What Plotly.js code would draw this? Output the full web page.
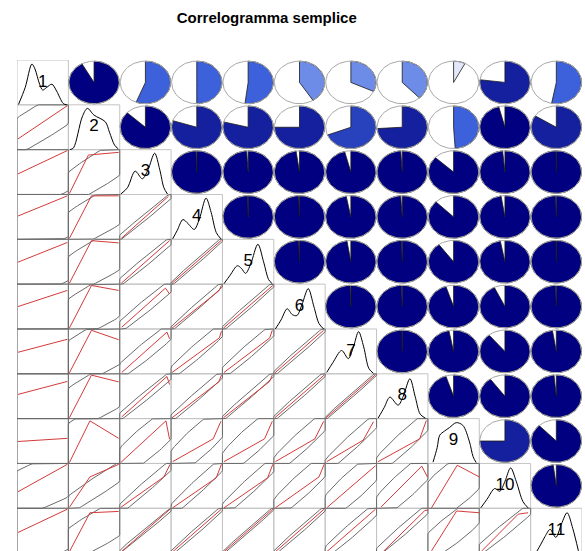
<!DOCTYPE html>
<html><head><meta charset="utf-8">
<script src="https://cdn.plot.ly/plotly-3.0.1.min.js"></script>
<style>html,body{margin:0;padding:0;background:#fff}</style>
</head><body><div id="chart" style="width:585px;height:551px"></div>
<script>
// ---------------- DATA ----------------
const varLabels = ['1','2','3','4','5','6','7','8','9','10','11'];

// upper-triangle correlations: corrRows[i] holds r(i+1, j) for j = i+2 .. 11
const corrRows = [
  [0.92, 0.56, 0.50, 0.52, 0.41, 0.32, 0.38, 0.075, 0.77, 0.53],
  [0.87, 0.80, 0.79, 0.75, 0.69, 0.74, 0.49, 0.96, 0.84],
  [0.995, 0.99, 0.978, 0.96, 0.99, 0.87, 0.985, 0.998],
  [0.997, 0.995, 0.97, 0.99, 0.875, 0.975, 0.995],
  [0.995, 0.975, 0.995, 0.90, 0.97, 0.998],
  [0.995, 0.995, 0.95, 0.93, 0.995],
  [0.998, 0.97, 0.89, 0.975],
  [0.95, 0.90, 0.985],
  [0.75, 0.88],
  [0.98]
];

// per-variable mean and spread (fraction of panel) used for the data ellipses
const varMean = [0.45, 0.60, 0.55, 0.55, 0.55, 0.55, 0.55, 0.55, 0.50, 0.52, 0.55];
const varSpread = [1.50, 1.10, 0.85, 0.80, 0.80, 0.80, 0.80, 0.80, 0.85, 0.85, 0.80];

// diagonal density curves (x and height as fraction of the panel)
const densityX = [
  [0.03,0.16,0.29,0.35,0.44,0.50,0.58,0.68,0.77,0.90,0.97],
  [0.03,0.10,0.27,0.37,0.50,0.72,0.80,0.90,0.97],
  [0.02,0.15,0.30,0.44,0.55,0.68,0.78,0.86,0.93],
  [0.03,0.12,0.23,0.33,0.45,0.55,0.68,0.78,0.88,0.97],
  [0.03,0.15,0.29,0.37,0.45,0.55,0.69,0.80,0.90,0.97],
  [0.03,0.14,0.26,0.36,0.45,0.55,0.67,0.78,0.88,0.97],
  [0.03,0.15,0.32,0.45,0.55,0.65,0.75,0.85,0.94],
  [0.03,0.15,0.26,0.42,0.52,0.65,0.75,0.85,0.95],
  [0.10,0.18,0.23,0.32,0.42,0.55,0.68,0.81,0.88,0.94],
  [0.03,0.15,0.30,0.40,0.50,0.61,0.72,0.85,0.95],
  [0.10,0.20,0.28,0.38,0.49,0.60,0.71,0.82,0.93]
];
const densityY = [
  [0.01,0.39,0.91,0.80,0.46,0.33,0.39,0.46,0.31,0.03,0.00],
  [0.00,0.04,0.73,0.92,0.77,0.62,0.39,0.10,0.02],
  [0.01,0.15,0.52,0.35,0.55,0.92,0.55,0.15,0.01],
  [0.01,0.20,0.44,0.35,0.22,0.45,0.92,0.60,0.15,0.01],
  [0.01,0.20,0.41,0.35,0.24,0.45,0.89,0.50,0.10,0.01],
  [0.00,0.20,0.45,0.32,0.30,0.55,0.90,0.50,0.12,0.00],
  [0.03,0.25,0.52,0.34,0.60,0.94,0.60,0.12,0.01],
  [0.01,0.25,0.48,0.30,0.50,0.89,0.50,0.10,0.01],
  [0.03,0.35,0.63,0.72,0.80,0.91,0.85,0.48,0.15,0.02],
  [0.01,0.20,0.44,0.38,0.60,0.90,0.60,0.15,0.01],
  [0.00,0.20,0.37,0.53,0.35,0.65,0.90,0.55,0.05]
];

// lower panels: loess smooth, [row, col] pairs with x / y as fraction of panel
const smoothPairs = [
  [2,1],[3,1],[4,1],[5,1],[6,1],[7,1],[8,1],[9,1],[10,1],[11,1],
  [3,2],[4,2],[5,2],[6,2],[7,2],[8,2],[9,2],[10,2],[11,2],
  [4,3],[5,3],[6,3],[7,3],[8,3],[9,3],[10,3],[11,3],
  [5,4],[6,4],[7,4],[8,4],[9,4],[10,4],[11,4],
  [6,5],[7,5],[8,5],[9,5],[10,5],[11,5],
  [7,6],[8,6],[9,6],[10,6],[11,6],
  [8,7],[9,7],[10,7],[11,7],
  [9,8],[10,8],[11,8],
  [10,9],[11,9],
  [11,10]
];
const smoothX = [
  [0.02,0.98],[0.02,0.98],[0.02,0.98],[0.02,0.98],[0.02,0.98],[0.02,0.98],[0.02,0.98],[0.02,0.98],[0.02,0.98],[0.02,0.98],
  [0.02,0.39,0.98],[0.02,0.45,0.98],[0.02,0.45,0.98],[0.02,0.45,0.98],[0.02,0.45,0.98],[0.02,0.45,0.98],[0.02,0.42,0.98],[0.02,0.42,0.98],[0.02,0.42,0.98],
  [0.03,0.95],[0.03,0.92,0.97],[0.04,0.89,0.97],[0.04,0.92,0.97],[0.04,0.92,0.97],[0.02,0.90,0.97],[0.02,0.86,0.98],[0.02,0.98],
  [0.02,0.98],[0.02,0.93,0.98],[0.02,0.94,0.98],[0.02,0.93,0.98],[0.03,0.82,0.97],[0.03,0.88,0.98],[0.02,0.98],
  [0.02,0.98],[0.03,0.92,0.97],[0.02,0.92,0.97],[0.03,0.82,0.97],[0.03,0.88,0.98],[0.02,0.98],
  [0.02,0.97],[0.02,0.98],[0.03,0.80,0.97],[0.03,0.88,0.98],[0.02,0.98],
  [0.02,0.98],[0.03,0.74,0.94],[0.04,0.88,0.98],[0.02,0.98],
  [0.03,0.84,0.97],[0.09,0.88,0.99],[0.10,0.94,1.00],
  [0.07,0.57,1.00],[0.07,0.56,1.00],
  [0.05,0.76,0.95]
];
const smoothY = [
  [0.24,0.98],[0.46,0.98],[0.52,0.97],[0.49,0.93],[0.50,0.86],[0.48,0.77],[0.54,0.83],[0.49,0.56],[0.37,0.98],[0.46,0.98],
  [0.02,0.88,0.94],[0.02,0.97,0.97],[0.02,0.97,0.92],[0.02,0.97,0.86],[0.02,0.97,0.76],[0.02,0.97,0.82],[0.02,0.95,0.56],[0.02,0.70,0.98],[0.03,0.90,0.93],
  [0.02,0.96],[0.02,0.93,0.97],[0.04,0.91,0.78],[0.03,0.93,0.78],[0.04,0.94,0.76],[0.02,0.95,0.54],[0.02,0.70,0.98],[0.02,0.98],
  [0.02,0.98],[0.02,0.85,0.97],[0.03,0.80,0.95],[0.02,0.82,0.97],[0.04,0.55,0.94],[0.01,0.68,0.98],[0.02,0.98],
  [0.02,0.97],[0.03,0.80,0.97],[0.02,0.83,0.97],[0.04,0.55,0.94],[0.01,0.68,0.98],[0.02,0.98],
  [0.02,0.97],[0.02,0.97],[0.04,0.55,0.94],[0.01,0.70,0.98],[0.02,0.98],
  [0.02,0.98],[0.04,0.52,0.93],[0.02,0.85,0.95],[0.02,0.98],
  [0.04,0.55,0.96],[0.03,0.94,0.70],[0.00,0.95,0.96],
  [0.01,0.96,0.70],[0.05,0.94,0.90],
  [0.05,0.87,0.90]
];

// ---------------- DRAWING ----------------
const N = varLabels.length;
function corrOf(i, j) { // 1-based, i<j
  return corrRows[i-1][j-i-1];
}
function px(col, u) { return col - 1 + u; }
function py(row, v) { return N - row + v; }

const rampStops = [[255,0,0],[250,128,114],[255,255,255],[65,105,225],[0,0,128]];
function pieColor(r) {
  let idx = Math.ceil((r + 1) / (2 / 14));
  idx = Math.max(1, Math.min(14, idx));
  const t = (idx - 1) / 13;
  const pos = t * 4;
  const k = Math.min(Math.floor(pos), 3);
  const f = pos - k;
  const a = rampStops[k], b = rampStops[k+1];
  const c = a.map((v, n) => Math.round(v + (b[n] - v) * f));
  return 'rgb(' + c.join(',') + ')';
}

const traces = [];
const shapes = [];

// panel boxes (diagonal + lower)
for (let i = 1; i <= N; i++) {
  for (let j = 1; j <= i; j++) {
    shapes.push({type:'rect', xref:'x', yref:'y', x0:j-1, x1:j, y0:N-i, y1:N-i+1,
      line:{color:'#c4c4c4', width:1}, layer:'below'});
  }
}

// pies (upper)
const rx = 0.49, ry = 0.475;
for (let i = 1; i <= N; i++) {
  for (let j = i + 1; j <= N; j++) {
    const r = corrOf(i, j);
    const cx = j - 0.5, cy = N - i + 0.5;
    const seg = Math.max(2, Math.round(90 * Math.abs(r)));
    const xs = [], ys = [];
    for (let s = 0; s < seg; s++) {
      const th = Math.PI / 2 - 2 * Math.PI * r * s / (seg - 1);
      xs.push(cx + rx * Math.cos(th)); ys.push(cy + ry * Math.sin(th));
    }
    xs.push(cx, xs[0]); ys.push(cy, ys[0]);
    traces.push({type:'scatter', mode:'lines', x:xs, y:ys, fill:'toself',
      fillcolor:pieColor(r), line:{color:'#1a1a1a', width:0.8}, hoverinfo:'skip'});
    const ox = [], oy = [];
    for (let s = 0; s <= 90; s++) {
      const th = 2 * Math.PI * s / 90;
      ox.push(cx + rx * Math.cos(th)); oy.push(cy + ry * Math.sin(th));
    }
    traces.push({type:'scatter', mode:'lines', x:ox, y:oy,
      line:{color:'#a8a8a8', width:1}, hoverinfo:'skip'});
  }
}

// data ellipses (lower), clamped to panel
const ex = [], ey = [];
for (let i = 2; i <= N; i++) {
  for (let j = 1; j < i; j++) {
    const r = corrOf(j, i);
    const q = Math.sqrt(1 - r * r);
    const a = varSpread[j-1], b = varSpread[i-1];
    const mx = varMean[j-1], my = varMean[i-1];
    for (let s = 0; s <= 150; s++) {
      const t = 2 * Math.PI * s / 150;
      let u = mx + a * Math.cos(t);
      let v = my + b * (r * Math.cos(t) + q * Math.sin(t));
      u = Math.max(0, Math.min(1, u)); v = Math.max(0, Math.min(1, v));
      ex.push(px(j, u)); ey.push(py(i, v));
    }
    ex.push(null); ey.push(null);
  }
}
traces.push({type:'scatter', mode:'lines', x:ex, y:ey, connectgaps:false,
  line:{color:'#6a6a6a', width:1}, hoverinfo:'skip'});

// loess smooths (lower)
const sx = [], sy = [];
smoothPairs.forEach((p, k) => {
  const [row, col] = p;
  smoothX[k].forEach((u, n) => { sx.push(px(col, u)); sy.push(py(row, smoothY[k][n])); });
  sx.push(null); sy.push(null);
});
traces.push({type:'scatter', mode:'lines', x:sx, y:sy, connectgaps:false,
  line:{color:'#d43a3a', width:1}, hoverinfo:'skip'});

// densities (diagonal)
for (let k = 1; k <= N; k++) {
  traces.push({type:'scatter', mode:'lines',
    x: densityX[k-1].map(u => px(k, u)), y: densityY[k-1].map(v => py(k, v)),
    line:{color:'#000', width:1, shape:'spline', smoothing:0.9}, hoverinfo:'skip'});
}
// labels
traces.push({type:'scatter', mode:'text',
  x: varLabels.map((_, k) => k + 0.5), y: varLabels.map((_, k) => N - k - 0.5),
  text: varLabels, textposition:'middle center',
  textfont:{family:'Liberation Sans, Arial, sans-serif', size:17, color:'#000'},
  hoverinfo:'skip'});

const layout = {
  width:585, height:551,
  margin:{l:17, r:3, t:60, b:0, pad:0},
  paper_bgcolor:'#fff', plot_bgcolor:'#fff',
  showlegend:false, hovermode:false,
  title:{text:'<b>Correlogramma semplice</b>', x:0.456, xanchor:'center', y:1-18/551, yanchor:'middle',
    font:{family:'Liberation Sans, Arial, sans-serif', size:15, color:'#000'}},
  xaxis:{range:[0, N], showgrid:false, zeroline:false, showticklabels:false, ticks:'', showline:false, fixedrange:true},
  yaxis:{range:[0.047, N], showgrid:false, zeroline:false, showticklabels:false, ticks:'', showline:false, fixedrange:true},
  shapes: shapes
};
Plotly.newPlot('chart', traces, layout, {staticPlot:true, displayModeBar:false});
</script>
</body></html>
